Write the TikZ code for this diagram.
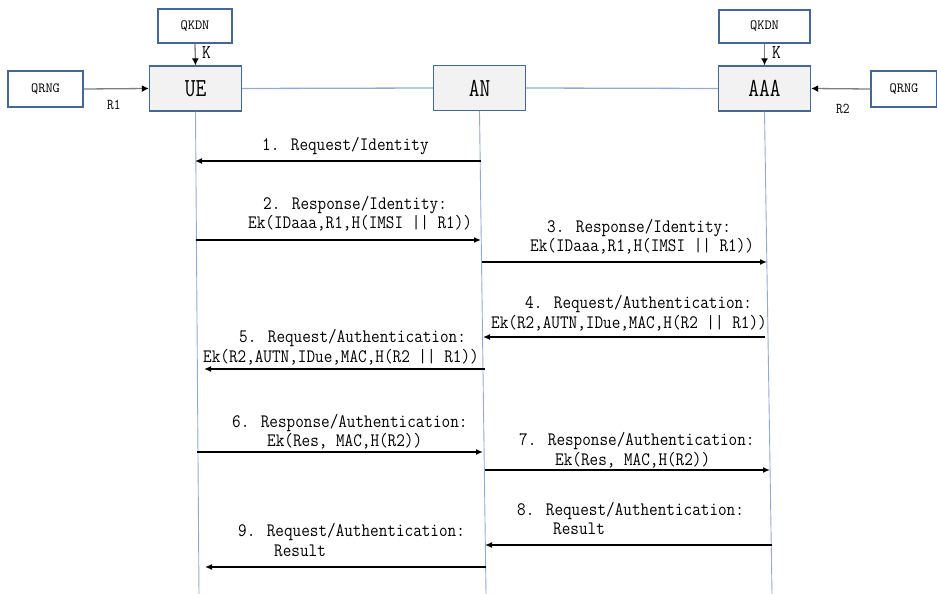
\documentclass[tikz,border=0pt]{standalone}
\usepackage{fontspec}
\usetikzlibrary{arrows.meta}
\newfontfamily\msgfont[FakeStretch=0.88]{Latin Modern Mono}
\newfontfamily\boxfont[FakeStretch=0.8]{Latin Modern Mono}
\newfontfamily\smallfont[FakeStretch=1.0]{Latin Modern Mono}
\newfontfamily\tagfont[FakeStretch=0.87]{Latin Modern Mono}
\definecolor{boxedge}{HTML}{41679E}
\definecolor{boxfill}{HTML}{F2F2F2}
\definecolor{lifeline}{HTML}{8FAADC}
\definecolor{feed}{HTML}{7F7F7F}
\tikzset{
  entity/.style={draw=boxedge, line width=1.3pt, fill=boxfill, inner sep=0pt,
    minimum width=92pt, minimum height=45pt, font=\boxfont\fontsize{26}{28}\selectfont},
  source/.style={draw=boxedge, line width=1.3pt, fill=white, inner sep=0pt,
    font=\smallfont\fontsize{14}{16}\selectfont},
  msgtext/.style={anchor=base west, inner sep=0pt, font=\msgfont\fontsize{19}{20}\selectfont},
  tagtext/.style={anchor=base west, inner sep=0pt, font=\tagfont\fontsize{15}{16}\selectfont},
  ktext/.style={anchor=base west, inner sep=0pt, font=\tagfont\fontsize{19.5}{20}\selectfont},
  life/.style={draw=lifeline, line width=0.9pt},
  link/.style={draw=lifeline, line width=1.3pt},
  feedarrow/.style={draw=feed, line width=1.3pt, -{Latex[length=7pt,width=7pt,color=black]}},
  msgarrow/.style={draw=black, line width=1.6pt, -{Latex[length=7pt,width=6pt]}}
}
\begin{document}
\begin{tikzpicture}[x=1pt, y=-1pt]
\useasboundingbox (0,0) rectangle (937,594);

% entities
\node[entity] (ue)  at (195.5,88.5) {UE};
\node[entity] (an)  at (479.5,88)   {AN};
\node[entity] (aaa) at (764.5,88.5) {AAA};

% key and random number sources
\node[source, minimum width=74pt, minimum height=34pt] (qkdnL) at (195,26)   {QKDN};
\node[source, minimum width=91pt, minimum height=33pt] (qkdnR) at (764.5,26.5) {QKDN};
\node[source, minimum width=75pt, minimum height=36pt] (qrngL) at (45.5,89)  {QRNG};
\node[source, minimum width=66pt, minimum height=36pt] (qrngR) at (904,89)   {QRNG};

% links between entities
\draw[link] (ue.east) -- (an.west);
\draw[link] (an.east) -- (aaa.west);

% lifelines
\coordinate (ueB) at (199,594);
\coordinate (anB) at (486,594);
\coordinate (aaaB) at (772,594);
\draw[life] (ue.south) -- (ueB);
\draw[life] (an.south) -- (anB);
\draw[life] (aaa.south) -- (aaaB);

% key and randomness feeds
\draw[feedarrow] (qkdnL.south) -- (ue.north);
\draw[feedarrow] (qkdnR.south) -- (aaa.north);
\draw[feedarrow] (qrngL.east) -- (ue.west);
\draw[feedarrow] (qrngR.west) -- (aaa.east);
\node[ktext] (kL) at (202,59) {K};
\node[ktext] (kR) at (772,59) {K};
\node[tagtext] (r1) at (107,110) {R1};
\node[tagtext] (r2) at (836,113) {R2};

% message end points on the lifelines
\coordinate (m1a) at (481,161); \coordinate (m1b) at (195,161);
\coordinate (m2a) at (196,240); \coordinate (m2b) at (481,240);
\coordinate (m3a) at (482,262); \coordinate (m3b) at (767,262);
\coordinate (m4a) at (765,337); \coordinate (m4b) at (483,337);
\coordinate (m5a) at (485,369); \coordinate (m5b) at (204,369);
\coordinate (m6a) at (197,452); \coordinate (m6b) at (483,452);
\coordinate (m7a) at (485,470); \coordinate (m7b) at (770,470);
\coordinate (m8a) at (772,545); \coordinate (m8b) at (485,545);
\coordinate (m9a) at (486,567); \coordinate (m9b) at (205,567);

% messages
\draw[msgarrow] (m1a) -- (m1b);
\node[msgtext] (t1) at (262,150) {1. Request/Identity};

\draw[msgarrow] (m2a) -- (m2b);
\node[msgtext] (t2a) at (263,209) {2. Response/Identity:};
\node[msgtext] (t2b) at (248,228) {Ek(IDaaa,R1,H(IMSI || R1))};

\draw[msgarrow] (m3a) -- (m3b);
\node[msgtext] (t3a) at (547,232) {3. Response/Identity:};
\node[msgtext] (t3b) at (530,251) {Ek(IDaaa,R1,H(IMSI || R1))};

\draw[msgarrow] (m4a) -- (m4b);
\node[msgtext] (t4a) at (525,308) {4. Request/Authentication:};
\node[msgtext] (t4b) at (491,328) {Ek(R2,AUTN,IDue,MAC,H(R2 || R1))};

\draw[msgarrow] (m5a) -- (m5b);
\node[msgtext] (t5a) at (239,342) {5. Request/Authentication:};
\node[msgtext] (t5b) at (203,362) {Ek(R2,AUTN,IDue,MAC,H(R2 || R1))};

\draw[msgarrow] (m6a) -- (m6b);
\node[msgtext] (t6a) at (232,427) {6. Response/Authentication:};
\node[msgtext] (t6b) at (267,446) {Ek(Res, MAC,H(R2))};

\draw[msgarrow] (m7a) -- (m7b);
\node[msgtext] (t7a) at (519,445) {7. Response/Authentication:};
\node[msgtext] (t7b) at (555,465) {Ek(Res, MAC,H(R2))};

\draw[msgarrow] (m8a) -- (m8b);
\node[msgtext] (t8a) at (517,515) {8. Request/Authentication:};
\node[msgtext] (t8b) at (553,534) {Result};

\draw[msgarrow] (m9a) -- (m9b);
\node[msgtext] (t9a) at (238,536) {9. Request/Authentication:};
\node[msgtext] (t9b) at (274,556) {Result};
\end{tikzpicture}
\end{document}
